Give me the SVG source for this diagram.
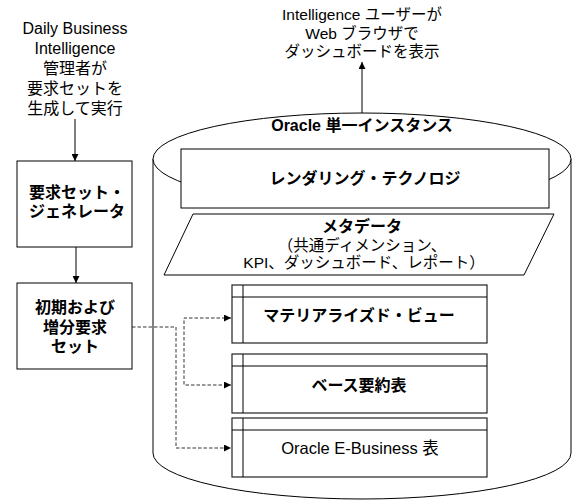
<svg xmlns="http://www.w3.org/2000/svg" width="572" height="503" viewBox="0 0 572 503">
<defs>
<style>
text{font-family:"Liberation Sans","Noto Sans CJK JP",sans-serif;fill:#000;text-anchor:middle}
.t{font-size:15.5px}
.tl{font-size:16px}
.b{font-size:16px;font-weight:bold}
.ln{fill:#fff;stroke:#000;stroke-width:1}
.tb{fill:#fff;stroke:#222;stroke-width:1.2}
.c{fill:none;stroke:#000;stroke-width:1}
.d{fill:none;stroke:#333;stroke-width:1;stroke-dasharray:3.5,2}
</style>
<marker id="ah" viewBox="0 0 10 10" refX="10" refY="5" markerWidth="7" markerHeight="7" markerUnits="userSpaceOnUse" orient="auto-start-reverse"><path d="M0,0 L10,5 L0,10 Z" fill="#000"/></marker>
<marker id="ahd" viewBox="0 0 10 10" refX="10" refY="5" markerWidth="7" markerHeight="7" markerUnits="userSpaceOnUse" orient="auto-start-reverse"><path d="M0,0 L10,5 L0,10 Z" fill="#000"/></marker>
</defs>

<g id="user-label">
<text class="t" x="362" y="20">Intelligence ユーザーが</text>
<text class="t" x="362" y="39">Web ブラウザで</text>
<text class="t" x="362" y="57">ダッシュボードを表示</text>
</g>

<g id="admin-label">
<text class="tl" x="75" y="34">Daily Business</text>
<text class="tl" x="75" y="54">Intelligence</text>
<text class="tl" x="75" y="74">管理者が</text>
<text class="tl" x="75" y="94">要求セットを</text>
<text class="tl" x="75" y="114">生成して実行</text>
</g>

<g id="oracle-instance">
<path class="ln" d="M153,159 V453 A209,46 0 0 0 571,453 V159"/>
<ellipse class="ln" cx="362" cy="159" rx="209" ry="46"/>
<text class="b" x="362" y="131">Oracle 単一インスタンス</text>
</g>

<g id="rendering">
<rect class="ln" x="181" y="149" width="368" height="59"/>
<text class="b" x="365" y="184">レンダリング・テクノロジ</text>
</g>

<g id="metadata">
<path class="ln" d="M193,214 H554 L524,275 H164 Z"/>
<text class="b" x="362" y="232">メタデータ</text>
<text class="t" x="362" y="251">（共通ディメンション、</text>
<text class="t" x="364" y="268">KPI、ダッシュボード、レポート）</text>
</g>

<g id="mv">
<rect class="tb" x="232" y="285" width="255" height="58"/>
<line class="c" x1="232" y1="297" x2="487" y2="297" stroke="#222"/>
<line class="c" x1="243" y1="285" x2="243" y2="343" stroke="#222"/>
<text class="b" x="359" y="321">マテリアライズド・ビュー</text>
</g>

<g id="base-summary">
<rect class="tb" x="232" y="354" width="255" height="59"/>
<line class="c" x1="232" y1="366" x2="487" y2="366" stroke="#222"/>
<line class="c" x1="243" y1="354" x2="243" y2="413" stroke="#222"/>
<text class="b" x="359" y="391">ベース要約表</text>
</g>

<g id="ebs">
<rect class="tb" x="232" y="418" width="255" height="59"/>
<line class="c" x1="232" y1="430" x2="487" y2="430" stroke="#222"/>
<line class="c" x1="243" y1="418" x2="243" y2="477" stroke="#222"/>
<text class="t" x="360" y="454" style="font-size:16.5px">Oracle E-Business 表</text>
</g>

<g id="generator">
<rect class="ln" x="17" y="161" width="115" height="86"/>
<text class="b" x="77" y="198">要求セット・</text>
<text class="b" x="77" y="217">ジェネレータ</text>
</g>

<g id="request-sets">
<rect class="ln" x="17" y="283" width="115" height="86"/>
<text class="b" x="75" y="313">初期および</text>
<text class="b" x="75" y="333">増分要求</text>
<text class="b" x="75" y="352">セット</text>
</g>

<g id="connectors">
<line class="c" x1="362" y1="113" x2="362" y2="62" marker-end="url(#ah)"/>
<line class="c" x1="75" y1="119" x2="75" y2="161" marker-end="url(#ah)"/>
<line class="c" x1="76" y1="247" x2="76" y2="283" marker-end="url(#ah)"/>
<path class="d" d="M132,327 H176 V448 H231" marker-end="url(#ahd)"/>
<path class="d" d="M231,318 H184 V385 H231" marker-start="url(#ahd)" marker-end="url(#ahd)"/>
</g>
</svg>
